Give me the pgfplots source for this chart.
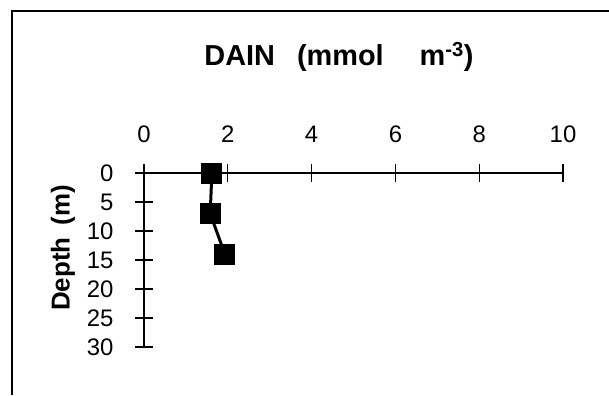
\documentclass[border=0pt]{standalone}
\usepackage{pgfplots}
\pgfplotsset{compat=1.18}
\usepackage{fontspec}
\setmainfont{Liberation Sans}

\begin{document}
\begin{tikzpicture}[x=1bp,y=1bp]
\useasboundingbox (0,0) rectangle (609,395);
% scanned frame
\draw[line width=2bp] (11.5,0) -- (11.5,383.5) -- (609,383.5);

\begin{axis}[
at={(144bp,48bp)}, anchor=south west,
scale only axis,
width=419bp, height=174bp,
xmin=0, xmax=10,
ymin=0, ymax=30,
y dir=reverse,
axis x line*=top,
axis y line*=left,
axis line style={line width=1.4bp},
xtick={0,2,4,6,8,10},
ytick={0,5,10,15,20,25,30},
tick align=center,
major tick length=18bp,
tick style={line width=1.2bp, black},
/pgf/number format/assume math mode=true,
ticklabel style={font=\fontsize{24}{28}\selectfont},
xticklabel style={anchor=center, yshift=30bp},
yticklabel style={anchor=east, xshift=-18bp},
clip=false,
]
\addplot [black, line width=3bp, mark=square*, mark size=9bp, mark options={solid}]
table{%
x y
1.62 0
1.58 7
1.93 14
};
\end{axis}

\node[font=\fontsize{29}{33}\selectfont\bfseries, anchor=base] at (339,330)
  {DAIN\hspace{22bp}(mmol\hspace{36bp}m\textsuperscript{-3})};
\node[font=\fontsize{26}{30}\selectfont\bfseries, rotate=90] at (63,147)
  {Depth\hspace{12bp}(m)};
\end{tikzpicture}
\end{document}
